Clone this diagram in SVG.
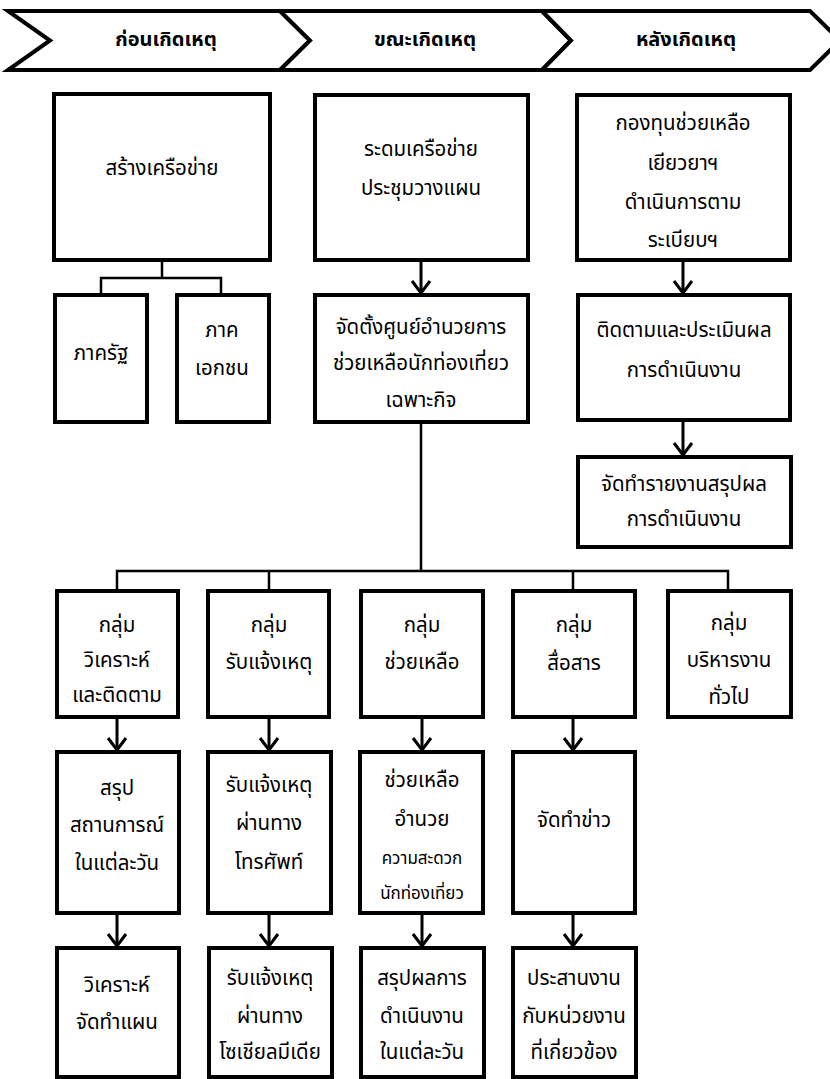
<svg xmlns="http://www.w3.org/2000/svg" width="830" height="1079" viewBox="0 0 830 1079">
<defs>
<style>
.box{fill:#fff;stroke:#000;stroke-width:4}
.hdr{fill:#fff;stroke:#000;stroke-width:4;stroke-linejoin:miter}
.ln{fill:none;stroke:#000;stroke-width:2.5}
.ar{fill:none;stroke:#000;stroke-width:3;marker-end:url(#ah)}
text{font-family:"Noto Sans Thai","Tahoma","Noto Sans","DejaVu Sans",sans-serif;font-size:20.5px;fill:#000;text-anchor:middle;dominant-baseline:central}
.h{font-weight:bold;font-size:20px}
.s{font-size:17px}
</style>
<marker id="ah" markerUnits="userSpaceOnUse" viewBox="-2 -2 16 22" markerWidth="16" markerHeight="22" refX="12" refY="9" orient="auto" overflow="visible">
<path d="M0,0 L12,9 L0,18" fill="none" stroke="#000" stroke-width="3"/>
</marker>
</defs>
<rect width="830" height="1079" fill="#fff"/>

<g id="header">
<polygon class="hdr" points="8,11 280,11 310,40.5 280,70 8,70 50,40.5"/>
<polygon class="hdr" points="280,11 542,11 571,40.5 542,70 280,70 310,40.5"/>
<polygon class="hdr" points="542,11 810,11 840,40.5 810,70 542,70 571,40.5"/>
<text class="h" x="166" y="40">ก่อนเกิดเหตุ</text>
<text class="h" x="425" y="40">ขณะเกิดเหตุ</text>
<text class="h" x="686" y="40">หลังเกิดเหตุ</text>
</g>

<g id="connectors">
<path class="ln" d="M162,260 V278 M101,295 V278 H221 V295"/>
<path class="ar" d="M421,260 V293"/>
<path class="ar" d="M683,260 V293"/>
<path class="ar" d="M683,420 V455"/>
<path class="ln" d="M421,422 V571 M117,591 V571 H728 V591 M269,571 V591 M573,571 V591"/>
<path class="ar" d="M117,717 V750"/>
<path class="ar" d="M269,717 V750"/>
<path class="ar" d="M422,717 V750"/>
<path class="ar" d="M573,717 V750"/>
<path class="ar" d="M117,913 V946"/>
<path class="ar" d="M269,913 V946"/>
<path class="ar" d="M422,913 V946"/>
<path class="ar" d="M573,913 V946"/>
</g>

<g id="n-network">
<rect class="box" x="54" y="94" width="216" height="166"/>
<text x="162" y="168">สร้างเครือข่าย</text>
</g>
<g id="n-public">
<rect class="box" x="55" y="295" width="92" height="127"/>
<text x="101" y="353">ภาครัฐ</text>
</g>
<g id="n-private">
<rect class="box" x="177" y="295" width="92" height="127"/>
<text x="222" y="330">ภาค</text>
<text x="222" y="368">เอกชน</text>
</g>

<g id="n-mobilize">
<rect class="box" x="315" y="95" width="213" height="165"/>
<text x="421" y="149">ระดมเครือข่าย</text>
<text x="421" y="188">ประชุมวางแผน</text>
</g>
<g id="n-center">
<rect class="box" x="315" y="295" width="213" height="127"/>
<text x="421" y="327">จัดตั้งศูนย์อำนวยการ</text>
<text x="421" y="363">ช่วยเหลือนักท่องเที่ยว</text>
<text x="421" y="400">เฉพาะกิจ</text>
</g>

<g id="n-fund">
<rect class="box" x="577" y="95" width="213" height="165"/>
<text x="683" y="123">กองทุนช่วยเหลือ</text>
<text x="683" y="163">เยียวยาฯ</text>
<text x="683" y="202">ดำเนินการตาม</text>
<text x="683" y="240">ระเบียบฯ</text>
</g>
<g id="n-monitor">
<rect class="box" x="578" y="295" width="212" height="125"/>
<text x="684" y="330">ติดตามและประเมินผล</text>
<text x="684" y="370">การดำเนินงาน</text>
</g>
<g id="n-report">
<rect class="box" x="578" y="457" width="213" height="90"/>
<text x="684" y="484">จัดทำรายงานสรุปผล</text>
<text x="684" y="519">การดำเนินงาน</text>
</g>

<g id="g-analysis">
<rect class="box" x="57" y="591" width="121" height="126"/>
<text x="117" y="625">กลุ่ม</text>
<text x="117" y="660">วิเคราะห์</text>
<text x="117" y="695">และติดตาม</text>
</g>
<g id="g-report">
<rect class="box" x="208" y="591" width="121" height="126"/>
<text x="269" y="625">กลุ่ม</text>
<text x="269" y="662">รับแจ้งเหตุ</text>
</g>
<g id="g-help">
<rect class="box" x="361" y="591" width="122" height="126"/>
<text x="422" y="625">กลุ่ม</text>
<text x="422" y="662">ช่วยเหลือ</text>
</g>
<g id="g-comm">
<rect class="box" x="513" y="591" width="122" height="126"/>
<text x="574" y="625">กลุ่ม</text>
<text x="574" y="663">สื่อสาร</text>
</g>
<g id="g-admin">
<rect class="box" x="668" y="591" width="123" height="126"/>
<text x="729" y="623">กลุ่ม</text>
<text x="729" y="660">บริหารงาน</text>
<text x="729" y="697">ทั่วไป</text>
</g>

<g id="r2-summary">
<rect class="box" x="57" y="752" width="122" height="161"/>
<text x="117" y="788">สรุป</text>
<text x="117" y="825">สถานการณ์</text>
<text x="117" y="863">ในแต่ละวัน</text>
</g>
<g id="r2-phone">
<rect class="box" x="208" y="752" width="123" height="161"/>
<text x="269" y="785">รับแจ้งเหตุ</text>
<text x="269" y="823">ผ่านทาง</text>
<text x="269" y="862">โทรศัพท์</text>
</g>
<g id="r2-assist">
<rect class="box" x="360" y="752" width="123" height="161"/>
<text x="422" y="780">ช่วยเหลือ</text>
<text x="422" y="819">อำนวย</text>
<text class="s" x="422" y="859">ความสะดวก</text>
<text class="s" x="422" y="894">นักท่องเที่ยว</text>
</g>
<g id="r2-news">
<rect class="box" x="513" y="752" width="122" height="161"/>
<text x="574" y="820">จัดทำข่าว</text>
</g>

<g id="r3-plan">
<rect class="box" x="57" y="948" width="122" height="129"/>
<text x="117" y="985">วิเคราะห์</text>
<text x="117" y="1022">จัดทำแผน</text>
</g>
<g id="r3-social">
<rect class="box" x="209" y="948" width="123" height="129"/>
<text x="270" y="978">รับแจ้งเหตุ</text>
<text x="270" y="1016">ผ่านทาง</text>
<text x="270" y="1052">โซเชียลมีเดีย</text>
</g>
<g id="r3-result">
<rect class="box" x="361" y="948" width="123" height="129"/>
<text x="422" y="978">สรุปผลการ</text>
<text x="422" y="1016">ดำเนินงาน</text>
<text x="422" y="1052">ในแต่ละวัน</text>
</g>
<g id="r3-coord">
<rect class="box" x="513" y="948" width="123" height="129"/>
<text x="574" y="978">ประสานงาน</text>
<text x="574" y="1016">กับหน่วยงาน</text>
<text x="574" y="1052">ที่เกี่ยวข้อง</text>
</g>
</svg>
